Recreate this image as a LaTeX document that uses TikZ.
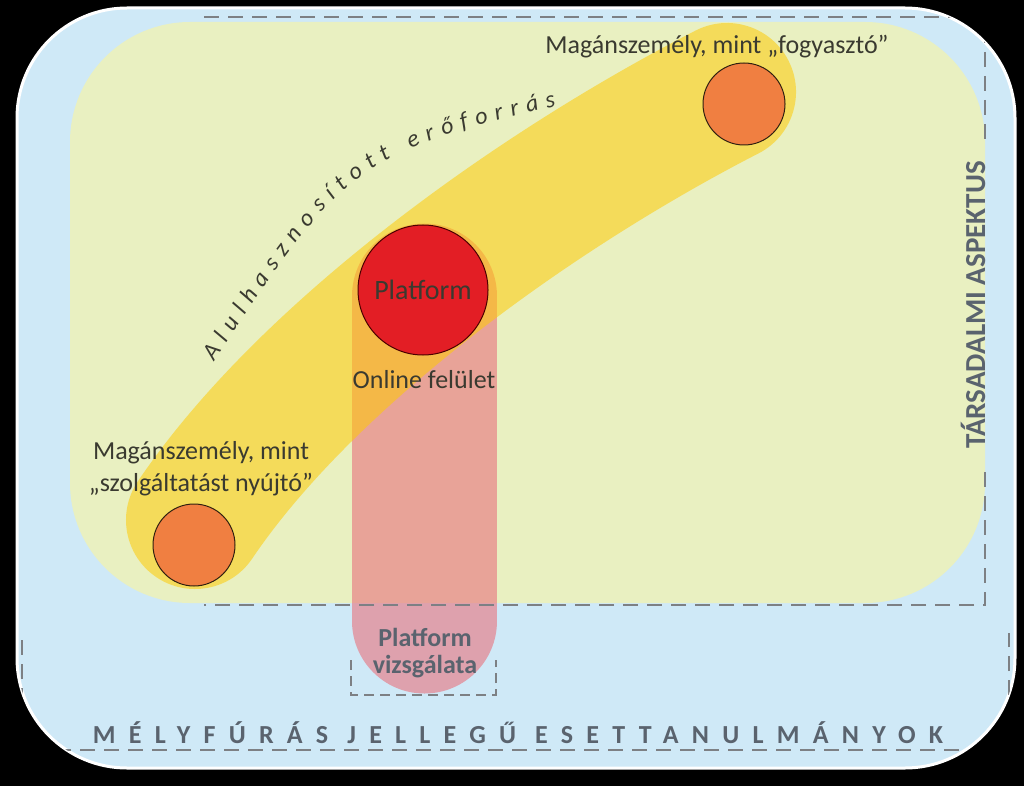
\documentclass[tikz,border=0pt]{standalone}
\usepackage{xcolor}
\usepackage{fontspec}
\setmainfont{Carlito}
\usepackage{tikz}
\usetikzlibrary{decorations.text}

\definecolor{bgblue}{RGB}{207,233,247}
\definecolor{aspgreen}{RGB}{233,240,193}
\definecolor{bandyellow}{RGB}{255,203,3}
\definecolor{tubepink}{RGB}{232,113,125}
\definecolor{actororange}{RGB}{240,127,65}
\definecolor{platred}{RGB}{227,30,37}
\definecolor{framegray}{RGB}{125,128,132}
\definecolor{labelgray}{RGB}{90,99,110}
\definecolor{textdark}{RGB}{58,58,48}

\begin{document}
\begin{tikzpicture}[x=1pt,y=-1pt,
		frame/.style={framegray,line width=2.5pt,dash pattern=on 15pt off 9pt},
		actor/.style={circle,draw=black!75!brown,line width=1pt,fill=actororange,minimum size=82pt,inner sep=0pt},
		plainlabel/.style={text=textdark,font=\fontsize{26}{32}\selectfont,align=center,inner sep=0pt},
		greylabel/.style={text=labelgray,font=\bfseries\fontsize{26}{27}\selectfont,align=center,inner sep=0pt}]
		\useasboundingbox (0,0) rectangle (1024,786);
		\fill[black] (0,0) rectangle (1024,786);
		
		\draw[white,line width=3pt,fill=bgblue,rounded corners=110pt] (17,8) rectangle (1015,768);
		\fill[aspgreen,rounded corners=120pt] (70,22) rectangle (985,603);
		
		\draw[tubepink,opacity=.6,line width=145pt,line cap=round] (424.5,296) -- (424.5,621);
		\draw[bandyellow,opacity=.54,line width=138pt,line cap=round] (195,520) .. controls (307,354) and (536,190) .. (727,92);
		
		\begin{scope}
			\clip[rounded corners=110pt] (17,8) rectangle (1015,768);
			\draw[frame] (204,17) -- (985,17) -- (985,145);
			\draw[frame] (985,472) -- (985,605) -- (204,605);
			\draw[frame] (22,640) -- (22,750) -- (1009,750) -- (1009,633);
			\draw[frame,dash pattern=on 10pt off 6pt] (351,660) -- (351,695) -- (496,695) -- (496,660);
		\end{scope}
		
		\node[actor] (cons) at (744,104) {};
		\node[actor] (prov) at (194,545) {};
		\node[circle,draw=black!70!red,line width=1pt,fill=platred,minimum size=130pt,inner sep=0pt,
		text=textdark,font=\fontsize{28}{28}\selectfont] (plat) at (423,290) {Platform};
		
		\node[plainlabel] (conslabel) at (717,47) {Magánszemély, mint „fogyasztó”};
		\node[plainlabel] (provlabel) at (201,469) {Magánszemély, mint\\„szolgáltatást nyújtó”};
		\node[plainlabel] (online) at (424,380) {Online felület};
		\node[greylabel] (study) at (425,653) {Platform\\vizsgálata};
		\node[greylabel,font={\bfseries\fontsize{29}{29}\selectfont},rotate=90] (social) at (973,305) {TÁRSADALMI ASPEKTUS};
		\node[greylabel,font={\bfseries\fontsize{26}{26}\selectfont\addfontfeatures{LetterSpace=51}}] (deep) at (518,733) {MÉLYFÚRÁS JELLEGŰ ESETTANULMÁNYOK};
		
		\path[decorate,decoration={text along path,text align=fit to path,
			text={|\itshape\color{textdark}\fontsize{24}{24}\selectfont|Alulhasznosított erőforrás}}]
		(214,362) .. controls (342,165) and (360,152) .. (556,106);
	\end{tikzpicture}
\end{document}
